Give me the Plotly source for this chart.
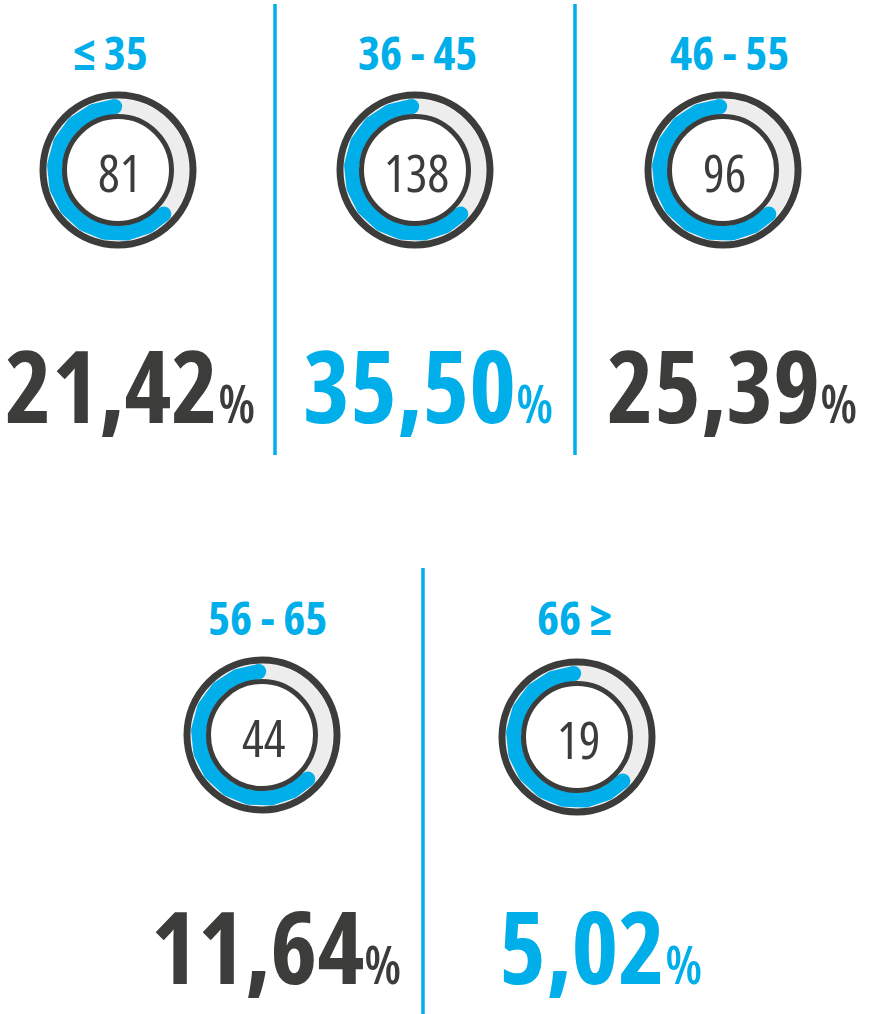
import numpy as np
import plotly.graph_objects as go

# ---- data ----
age_groups = ["≤ 35", "36 - 45", "46 - 55", "56 - 65", "66 ≥"]
counts = [81, 138, 96, 44, 19]
percentages = [21.42, 35.50, 25.39, 11.64, 5.02]
highlighted = [False, True, False, False, True]
arc_fraction = [0.62, 0.62, 0.62, 0.62, 0.62]

# ---- layout / style ----
W, H = 875, 1014
BLUE = "#00AEEA"
DARK = "#3C3C3B"
TRACK = "#EDEDED"
FONT = "Open Sans, Roboto Condensed, sans-serif"
COND = "font-stretch:condensed"

gauge_centers = [(118, 170), (415, 170), (723, 170), (262, 735), (577, 737)]
label_pos = [(110, 52), (417, 52), (729, 52), (267, 617), (574, 617)]
pct_pos = [(130, 384), (428, 384), (732, 384), (276, 945), (600, 945)]
dividers = [(275, 4, 455), (575, 4, 455), (423, 568, 1014)]

R_OUT, W_OUT = 75, 7
R_TRACK, W_TRACK = 63.5, 15
R_IN, W_IN = 53.5, 5
START_DEG = 93

fig = go.Figure()
shapes = []
annotations = []

for i, (cx, cy) in enumerate(gauge_centers):
    # gray track
    shapes.append(dict(type="circle", xref="x", yref="y", layer="below",
                       x0=cx - R_TRACK, x1=cx + R_TRACK, y0=cy - R_TRACK, y1=cy + R_TRACK,
                       line=dict(color=TRACK, width=W_TRACK)))
    # dark rings
    for r, w in [(R_OUT, W_OUT), (R_IN, W_IN)]:
        shapes.append(dict(type="circle", xref="x", yref="y", layer="above",
                           x0=cx - r, x1=cx + r, y0=cy - r, y1=cy + r,
                           line=dict(color=DARK, width=w)))
    # blue arc (counter-clockwise from the top)
    th = np.radians(np.linspace(START_DEG, START_DEG + 360 * arc_fraction[i], 240))
    ax = cx + R_TRACK * np.cos(th)
    ay = cy - R_TRACK * np.sin(th)
    fig.add_trace(go.Scatter(x=ax, y=ay, mode="lines",
                             line=dict(color=BLUE, width=W_TRACK),
                             hoverinfo="skip", showlegend=False))
    fig.add_trace(go.Scatter(x=[ax[0], ax[-1]], y=[ay[0], ay[-1]], mode="markers",
                             marker=dict(color=BLUE, size=W_TRACK, line=dict(width=0)),
                             hoverinfo="skip", showlegend=False))
    # count in the middle
    annotations.append(dict(x=cx + 1, y=cy + 2, xref="x", yref="y",
                            text="<span style='%s'>%d</span>" % (COND, counts[i]),
                            showarrow=False, xanchor="center", yanchor="middle",
                            font=dict(family=FONT, size=51, color=DARK, weight=400)))
    # age group label
    lx, ly = label_pos[i]
    annotations.append(dict(x=lx, y=ly, xref="x", yref="y",
                            text="<span style='%s'>%s</span>" % (COND, age_groups[i]),
                            showarrow=False, xanchor="center", yanchor="middle",
                            font=dict(family=FONT, size=47, color=BLUE, weight=700)))
    # percentage
    px, py = pct_pos[i]
    txt = ("%.2f" % percentages[i]).replace(".", ",")
    col = BLUE if highlighted[i] else DARK
    annotations.append(dict(x=px, y=py, xref="x", yref="y",
                            text="<span style='%s'>%s</span><span style='%s;font-size:52px;font-weight:600'>%%</span>"
                                 % (COND, txt, COND),
                            showarrow=False, xanchor="center", yanchor="middle",
                            font=dict(family=FONT, size=100, color=col, weight=700)))

for x, y0, y1 in dividers:
    shapes.append(dict(type="line", xref="x", yref="y", x0=x, x1=x, y0=y0, y1=y1,
                       line=dict(color=BLUE, width=3.5)))

fig.update_layout(
    width=W, height=H,
    margin=dict(l=0, r=0, t=0, b=0),
    paper_bgcolor="white", plot_bgcolor="white",
    xaxis=dict(range=[0, W], visible=False, fixedrange=True),
    yaxis=dict(range=[H, 0], visible=False, fixedrange=True),
    shapes=shapes, annotations=annotations,
    showlegend=False,
)

fig.write_html("out.html", config={"displayModeBar": False},
               post_script="document.body.style.margin='0';")
